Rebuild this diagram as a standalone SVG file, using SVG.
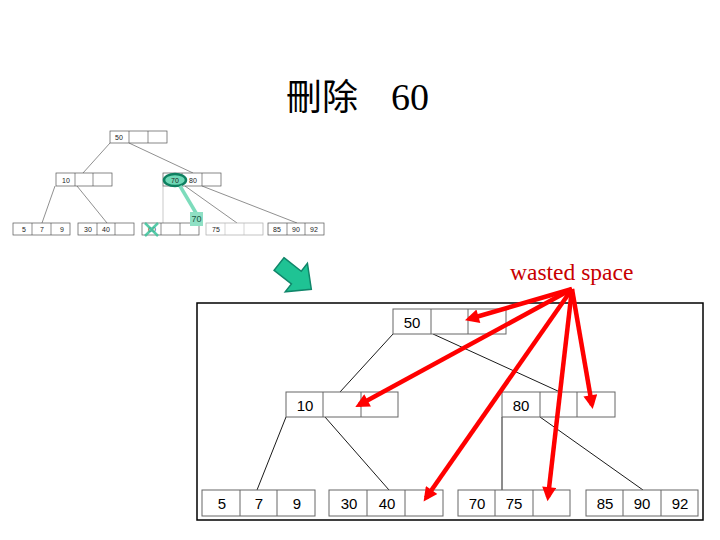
<svg xmlns="http://www.w3.org/2000/svg" width="720" height="540" viewBox="0 0 720 540">
<defs>
<style>
.sn{fill:#fff;stroke:#555;stroke-width:0.7}
.st{font-family:"Liberation Sans",Arial,sans-serif;font-size:7px;fill:#222;text-anchor:middle;dominant-baseline:central}
.sl{stroke:#444;stroke-width:0.6;fill:none}
.bn{fill:#fff;stroke:#666;stroke-width:1}
.bt{font-family:"Liberation Sans",Arial,sans-serif;font-size:15px;fill:#000;text-anchor:middle;dominant-baseline:central}
.bl{stroke:#000;stroke-width:0.9;fill:none}
.ra{stroke:#f00;stroke-width:4.5;fill:none;marker-end:url(#ah)}
</style>
<marker id="ah" viewBox="0 0 10 10" refX="7" refY="5" markerWidth="3.6" markerHeight="3.1" orient="auto">
<path d="M0,0 L10,5 L0,10 Z" fill="#f00"/>
</marker>
</defs>
<rect width="720" height="540" fill="#fff"/>
<text x="286" y="110" font-family="'Liberation Serif','Noto Sans CJK TC',serif" font-size="36" fill="#000">刪除 <tspan x="391" font-size="38">60</tspan></text>

<g id="small-tree">
<g class="sl">
<line x1="110" y1="143" x2="83" y2="173"/>
<line x1="129" y1="143" x2="193" y2="173"/>
<line x1="55" y1="186" x2="42" y2="223"/>
<line x1="77" y1="186" x2="107" y2="223"/>
<line x1="185" y1="186" x2="237" y2="223"/>
<line x1="202" y1="186" x2="297" y2="223"/>
</g>
<line x1="163" y1="186" x2="163" y2="223" stroke="#bbb" stroke-width="0.8"/>
<g id="s-root"><rect class="sn" x="110" y="131" width="57" height="12"/><path class="sl" d="M129,131V143M148,131V143"/><text class="st" x="119" y="137">50</text></g>
<g id="s-n10"><rect class="sn" x="56" y="173" width="56" height="13"/><path class="sl" d="M75,173V186M93,173V186"/><text class="st" x="66" y="180">10</text></g>
<g id="s-n7080"><rect class="sn" x="163" y="173" width="58" height="13"/><path class="sl" d="M182,173V186M202,173V186"/>
<ellipse cx="175" cy="180" rx="11" ry="6" fill="#6fd8b6" stroke="#0e8060" stroke-width="2.5"/>
<text class="st" x="175" y="180" fill="#0e8060">70</text><text class="st" x="193" y="180">80</text></g>
<g id="s-l1"><rect class="sn" x="13" y="223" width="57" height="12"/><path class="sl" d="M32,223V235M51,223V235"/><text class="st" x="24" y="229">5</text><text class="st" x="42" y="229">7</text><text class="st" x="62" y="229">9</text></g>
<g id="s-l2"><rect class="sn" x="78" y="223" width="56" height="12"/><path class="sl" d="M97,223V235M115,223V235"/><text class="st" x="88" y="229">30</text><text class="st" x="106" y="229">40</text></g>
<g id="s-l3"><rect class="sn" x="142" y="223" width="57" height="12"/><path class="sl" d="M161,223V235M180,223V235"/><text class="st" x="152" y="229" fill="#2aa880">60</text>
<path d="M145,223L158,236M158,223L145,236" stroke="#3cc49c" stroke-width="2.5" opacity="0.85"/></g>
<g id="s-l4"><rect x="206" y="223" width="57" height="12" fill="#fff" stroke="#aaa" stroke-width="0.7"/><path d="M225,223V235M244,223V235" stroke="#bbb" stroke-width="0.6"/><text class="st" x="216" y="229">75</text></g>
<g id="s-l5"><rect class="sn" x="268" y="223" width="56" height="12"/><path class="sl" d="M287,223V235M305,223V235"/><text class="st" x="277" y="229">85</text><text class="st" x="296" y="229">90</text><text class="st" x="314" y="229">92</text></g>
<g id="s-move">
<line x1="180" y1="186" x2="196" y2="213" stroke="#7ddcbc" stroke-width="3.5"/>
<rect x="190" y="212" width="13" height="14" fill="#8fe0c4"/>
<text x="196.5" y="219" font-family="'Liberation Sans',Arial,sans-serif" font-size="9" fill="#1a5a44" text-anchor="middle" dominant-baseline="central">70</text>
</g>
</g>

<g id="green-arrow">
<polygon transform="translate(279,264) rotate(38)" points="0,-8 22,-8 22,-18 41,0 22,18 22,8 0,8" fill="#1fc394" stroke="#10866a" stroke-width="1.5" stroke-linejoin="miter"/>
</g>

<rect id="frame" x="197" y="303" width="506" height="217" fill="#fff" stroke="#000" stroke-width="1.5"/>

<g id="big-tree">
<g id="connectors" class="bl">
<line x1="393" y1="334" x2="340" y2="392"/>
<line x1="433" y1="334" x2="560" y2="392"/>
<line x1="286" y1="417" x2="257" y2="490"/>
<line x1="325" y1="417" x2="389" y2="490"/>
<line x1="502" y1="417" x2="502" y2="490"/>
<line x1="540" y1="417" x2="643" y2="490"/>
</g>
<g id="root"><rect class="bn" x="393" y="309" width="113" height="25"/><path class="bn" d="M431,309V334M468,309V334"/><text class="bt" x="412" y="322">50</text></g>
<g id="n10"><rect class="bn" x="286" y="392" width="112" height="25"/><path class="bn" d="M323,392V417M361,392V417"/><text class="bt" x="305" y="405">10</text></g>
<g id="n80"><rect class="bn" x="502" y="392" width="113" height="25"/><path class="bn" d="M540,392V417M577,392V417"/><text class="bt" x="521" y="405">80</text></g>
<g id="l1"><rect class="bn" x="202" y="490" width="113" height="26"/><path class="bn" d="M240,490V516M277,490V516"/><text class="bt" x="222" y="503">5</text><text class="bt" x="259" y="503">7</text><text class="bt" x="297" y="503">9</text></g>
<g id="l2"><rect class="bn" x="329" y="490" width="114" height="26"/><path class="bn" d="M367,490V516M405,490V516"/><text class="bt" x="349" y="503">30</text><text class="bt" x="387" y="503">40</text></g>
<g id="l3"><rect class="bn" x="458" y="490" width="112" height="26"/><path class="bn" d="M495,490V516M533,490V516"/><text class="bt" x="477" y="503">70</text><text class="bt" x="514" y="503">75</text></g>
<g id="l4"><rect class="bn" x="586" y="490" width="112" height="26"/><path class="bn" d="M623,490V516M661,490V516"/><text class="bt" x="605" y="503">85</text><text class="bt" x="642" y="503">90</text><text class="bt" x="680" y="503">92</text></g>
</g>

<g id="wasted">
<text x="510" y="280" font-family="'Liberation Serif','Times New Roman',serif" font-size="23.5" fill="#c80000">wasted space</text>
<g id="red-arrows">
<line class="ra" x1="572" y1="289" x2="469" y2="319"/>
<line class="ra" x1="572" y1="289" x2="359" y2="405"/>
<line class="ra" x1="572" y1="289" x2="426" y2="498"/>
<line class="ra" x1="572" y1="289" x2="548" y2="497"/>
<line class="ra" x1="572" y1="289" x2="592" y2="405"/>
</g>
</g>
</svg>
